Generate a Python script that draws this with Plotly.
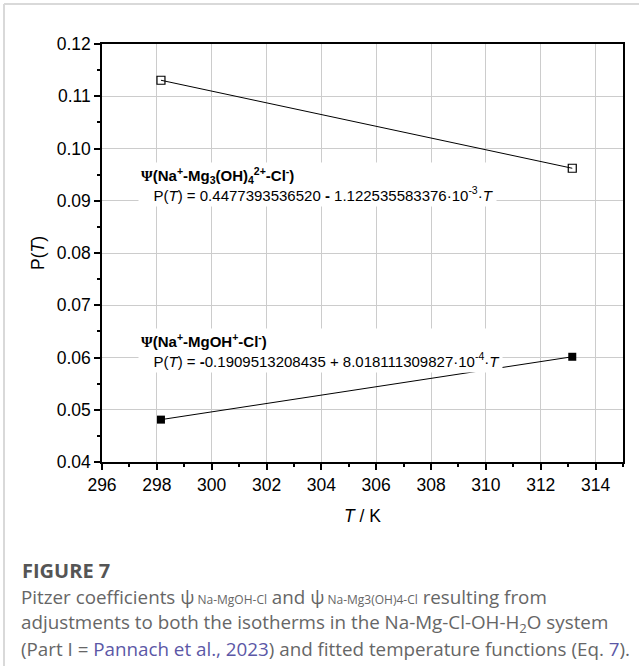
import plotly.graph_objects as go

# Data
T_K = [298.15, 313.15]
psi_mg3oh4 = [0.11306, 0.09622]
psi_mgoh = [0.04811, 0.06014]

x_ticks = [296, 298, 300, 302, 304, 306, 308, 310, 312, 314]
y_ticks = [0.04, 0.05, 0.06, 0.07, 0.08, 0.09, 0.10, 0.11, 0.12]

W, H = 639, 666
L, R, T, B = 102, 16, 44, 204
PW, PH = W - L - R, H - T - B

def px(x):
    return (x - L) / PW

def py(y):
    return (H - B - y) / PH

fig = go.Figure()
fig.add_trace(go.Scatter(x=T_K, y=psi_mg3oh4, mode="lines+markers",
                         line=dict(color="black", width=1),
                         marker=dict(symbol="square-open", size=8, color="black",
                                     line=dict(width=1.2, color="black")),
                         showlegend=False))
fig.add_trace(go.Scatter(x=T_K, y=psi_mgoh, mode="lines+markers",
                         line=dict(color="black", width=1),
                         marker=dict(symbol="square", size=8, color="black"),
                         showlegend=False))

tickfont = dict(family="Liberation Sans", size=17.5, color="black")
titlefont = dict(family="Liberation Sans", size=17.5, color="black")

fig.update_xaxes(range=[296, 315], tickvals=x_ticks, ticktext=[str(v) for v in x_ticks],
                 ticks="outside", ticklen=6, tickwidth=1.5, tickcolor="black",
                 minor=dict(dtick=1, ticks="outside", ticklen=3, tickwidth=1.5, tickcolor="black", showgrid=False),
                 showline=True, linecolor="black", linewidth=1.5, mirror=True,
                 showgrid=True, gridcolor="#cccccc", gridwidth=1,
                 zeroline=False, tickfont=tickfont,
                 title=dict(text="<i>T</i> / K", font=titlefont, standoff=16))
fig.update_yaxes(range=[0.04, 0.12], tickvals=y_ticks, ticktext=[f"{v:.2f}" for v in y_ticks],
                 ticks="outside", ticklen=6, tickwidth=1.5, tickcolor="black",
                 minor=dict(dtick=0.005, ticks="outside", ticklen=3, tickwidth=1.5, tickcolor="black", showgrid=False),
                 showline=True, linecolor="black", linewidth=1.5, mirror=True,
                 showgrid=True, gridcolor="#cccccc", gridwidth=1,
                 zeroline=False, tickfont=tickfont,
                 title=dict(text="P(<i>T</i>)", font=titlefont, standoff=8))

afont = dict(family="Liberation Sans", size=15, color="black")
sp = "\u00a0" * 3
fig.add_annotation(x=297.31, y=0.0932, xref="x", yref="y", xanchor="left", yanchor="middle",
                   align="left", showarrow=False, bgcolor="white", borderpad=2, font=afont,
                   text="<b><span style='font-family:Liberation Serif'>Ψ</span>(Na<sup>+</sup>-Mg<sub>3</sub>(OH)<sub>4</sub><sup>2+</sup>-Cl<sup>-</sup>)</b><br>"
                        + sp + "P(<i>T</i>) = 0.4477393536520 <b>-</b> 1.122535583376·10<sup>-3</sup>·<i>T</i>")
fig.add_annotation(x=297.31, y=0.0614, xref="x", yref="y", xanchor="left", yanchor="middle",
                   align="left", showarrow=False, bgcolor="white", borderpad=2, font=afont,
                   text="<b><span style='font-family:Liberation Serif'>Ψ</span>(Na<sup>+</sup>-MgOH<sup>+</sup>-Cl<sup>-</sup>)</b><br>"
                        + sp + "P(<i>T</i>) = <b>-</b>0.1909513208435 + 8.018111309827·10<sup>-4</sup>·<i>T</i>")

# Caption
cfont = dict(family="Open Sans", size=18.8, color="#666666")
link = "#5b57a6"
fig.add_annotation(x=px(20), y=py(570), xref="paper", yref="paper", xanchor="left", yanchor="middle",
                   showarrow=False, text="<b>FIGURE 7</b>", font=dict(family="Open Sans", size=20, color="#555555"))
s = "<span style='font-size:12px'>"
lines = [
    f"Pitzer coefficients ψ{s} Na-MgOH-Cl</span> and ψ{s} Na-Mg3(OH)4-Cl</span> resulting from",
    "adjustments to both the isotherms in the Na-Mg-Cl-OH-H<sub>2</sub>O system",
    f"(Part I = <span style='color:{link}'>Pannach et al., 2023</span>) and fitted temperature functions (Eq. <span style='color:{link}'>7</span>).",
]
for i, t in enumerate(lines):
    fig.add_annotation(x=px(19), y=py(597 + 26 * i), xref="paper", yref="paper", xanchor="left", yanchor="middle",
                       showarrow=False, text=t, font=cfont)

# Frame lines
fig.add_shape(type="line", xref="paper", yref="paper", x0=px(4), x1=px(4), y0=py(4), y1=py(H),
              line=dict(color="#d9d9d9", width=2))
fig.add_shape(type="line", xref="paper", yref="paper", x0=px(4), x1=px(W), y0=py(4), y1=py(4),
              line=dict(color="#d9d9d9", width=2))

fig.update_layout(width=W, height=H, margin=dict(l=L, r=R, t=T, b=B),
                  plot_bgcolor="white", paper_bgcolor="white")

fig.write_html("out.html")
